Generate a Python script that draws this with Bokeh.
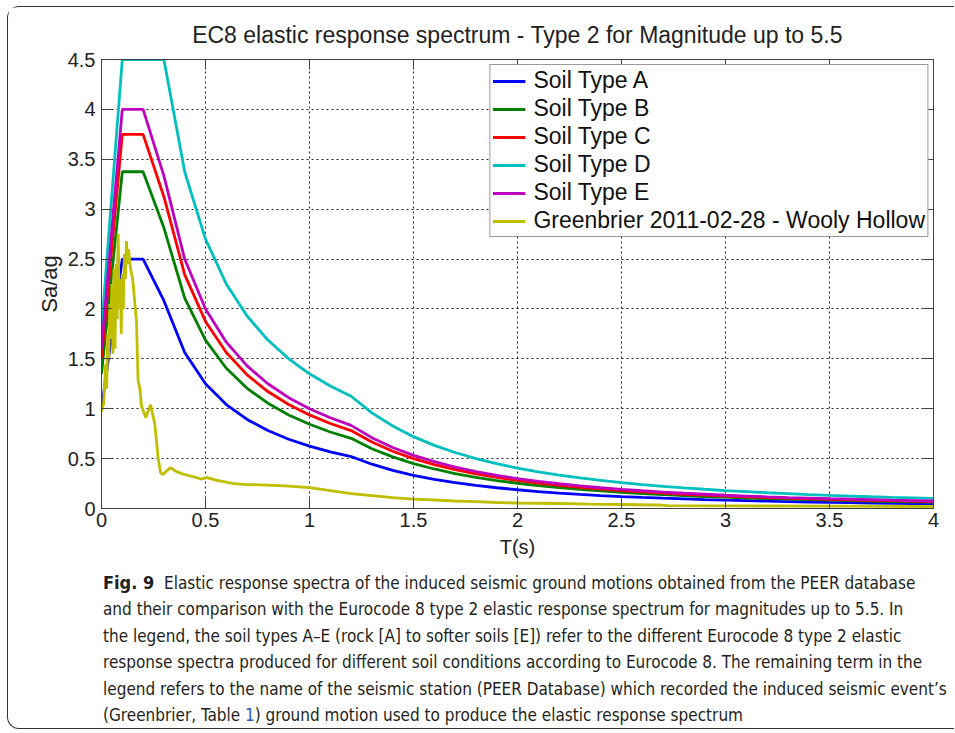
from bokeh.plotting import figure
from bokeh.layouts import column
from bokeh.models import (Range1d, LinearAxis, CustomJSTickFormatter, Legend, LegendItem, Div)
from bokeh.embed import file_html
from bokeh.resources import INLINE

# ---------------- data ----------------
period = [0.0, 0.1, 0.2, 0.3, 0.4, 0.5, 0.6, 0.7, 0.8, 0.9, 1.0,
          1.1, 1.2, 1.3, 1.4, 1.5, 1.6, 1.7, 1.8, 1.9, 2.0,
          2.1, 2.2, 2.3, 2.4, 2.5, 2.6, 2.7, 2.8, 2.9, 3.0,
          3.1, 3.2, 3.3, 3.4, 3.5, 3.6, 3.7, 3.8, 3.9, 4.0]

soil_a = [1.0, 2.5, 2.5, 2.083, 1.563, 1.25, 1.042, 0.893, 0.781, 0.694, 0.625,
          0.568, 0.521, 0.444, 0.383, 0.333, 0.293, 0.260, 0.231, 0.208, 0.188,
          0.170, 0.155, 0.142, 0.130, 0.120, 0.111, 0.103, 0.096, 0.089, 0.083,
          0.078, 0.073, 0.069, 0.065, 0.061, 0.058, 0.055, 0.052, 0.049, 0.047]
soil_b = [1.35, 3.375, 3.375, 2.813, 2.109, 1.688, 1.406, 1.205, 1.055, 0.938, 0.844,
          0.767, 0.703, 0.599, 0.517, 0.450, 0.396, 0.350, 0.313, 0.280, 0.253,
          0.230, 0.209, 0.191, 0.176, 0.162, 0.150, 0.139, 0.129, 0.120, 0.113,
          0.105, 0.099, 0.093, 0.088, 0.083, 0.078, 0.074, 0.070, 0.067, 0.063]
soil_c = [1.5, 3.75, 3.75, 3.125, 2.344, 1.875, 1.563, 1.339, 1.172, 1.042, 0.938,
          0.852, 0.781, 0.666, 0.574, 0.500, 0.439, 0.389, 0.347, 0.312, 0.281,
          0.255, 0.232, 0.213, 0.195, 0.180, 0.166, 0.154, 0.143, 0.134, 0.125,
          0.117, 0.110, 0.103, 0.097, 0.092, 0.087, 0.082, 0.078, 0.074, 0.070]
soil_d = [1.8, 4.5, 4.5, 4.5, 3.375, 2.7, 2.25, 1.929, 1.688, 1.5, 1.35,
          1.227, 1.125, 0.959, 0.827, 0.720, 0.633, 0.561, 0.500, 0.449, 0.405,
          0.367, 0.335, 0.306, 0.281, 0.259, 0.240, 0.222, 0.207, 0.193, 0.180,
          0.169, 0.158, 0.149, 0.140, 0.132, 0.125, 0.118, 0.112, 0.107, 0.101]
soil_e = [1.6, 4.0, 4.0, 3.333, 2.5, 2.0, 1.667, 1.429, 1.25, 1.111, 1.0,
          0.909, 0.833, 0.710, 0.612, 0.533, 0.469, 0.415, 0.370, 0.332, 0.300,
          0.272, 0.248, 0.227, 0.208, 0.192, 0.178, 0.165, 0.153, 0.143, 0.133,
          0.125, 0.117, 0.110, 0.104, 0.098, 0.093, 0.088, 0.083, 0.079, 0.075]

gb_period = [0.0, 0.01, 0.02, 0.025, 0.03, 0.035, 0.04, 0.045, 0.05, 0.055, 0.06,
             0.065, 0.07, 0.075, 0.08, 0.085, 0.09, 0.095, 0.10, 0.105, 0.11,
             0.115, 0.12, 0.125, 0.13, 0.14, 0.15, 0.168, 0.176, 0.184, 0.192,
             0.213, 0.236, 0.256, 0.272, 0.284, 0.296, 0.315, 0.332, 0.36, 0.393,
             0.457, 0.476, 0.508, 0.55, 0.636, 0.7, 0.8, 0.9, 1.0, 1.1,
             1.2, 1.3, 1.4, 1.5, 1.6, 1.7, 1.8, 1.9, 2.0, 2.2,
             2.35, 2.5, 2.68, 2.72, 3.0, 3.5, 4.0]
gb_sa = [0.97, 1.05, 1.45, 1.2, 1.75, 1.5, 2.05, 1.7, 2.25, 1.55, 2.4,
         1.6, 2.45, 1.9, 2.75, 2.0, 2.3, 1.75, 2.35, 2.0, 2.55,
         2.3, 2.68, 2.45, 2.6, 2.4, 2.3, 1.88, 1.28, 1.21, 1.03,
         0.91, 1.04, 0.85, 0.51, 0.36, 0.34, 0.38, 0.41, 0.37, 0.345,
         0.31, 0.295, 0.31, 0.285, 0.25, 0.24, 0.235, 0.225, 0.21, 0.18,
         0.15, 0.13, 0.11, 0.094, 0.085, 0.075, 0.068, 0.06, 0.055, 0.05,
         0.044, 0.04, 0.035, 0.028, 0.026, 0.023, 0.02]

series_names = ["Soil Type A", "Soil Type B", "Soil Type C", "Soil Type D", "Soil Type E",
                "Greenbrier 2011-02-28 - Wooly Hollow"]
series_colors = ["#0000ff", "#008000", "#ff0000", "#00bfbf", "#bf00bf", "#bfbf00"]

x_ticks = [0, 0.5, 1, 1.5, 2, 2.5, 3, 3.5, 4]
y_ticks = [0, 0.5, 1, 1.5, 2, 2.5, 3, 3.5, 4, 4.5]

title_text = "EC8 elastic response spectrum - Type 2 for Magnitude up to 5.5"
caption_bold = "Fig. 9"
caption_first = "Elastic response spectra of the induced seismic ground motions obtained from the PEER database"
caption_lines = [
    "and their comparison with the Eurocode 8 type 2 elastic response spectrum for magnitudes up to 5.5. In",
    "the legend, the soil types A\u2013E (rock [A] to softer soils [E]) refer to the different Eurocode 8 type 2 elastic",
    "response spectra produced for different soil conditions according to Eurocode 8. The remaining term in the",
    "legend refers to the name of the seismic station (PEER Database) which recorded the induced seismic event\u2019s",
]
caption_last_a = "(Greenbrier, Table "
caption_last_b = "1"
caption_last_c = ") ground motion used to produce the elastic response spectrum"

# ---------------- main chart ----------------
FONT = "Liberation Sans"
AXC = "#404040"

p = figure(width=946, height=553, output_backend="svg", toolbar_location=None,
           x_range=Range1d(0, 4), y_range=Range1d(0, 4.5),
           min_border_left=93, min_border_right=21, min_border_top=52, min_border_bottom=52,
           title=title_text)
p.title.align = "center"
p.title.text_font = FONT
p.title.text_font_size = "23px"
p.title.text_font_style = "normal"
p.title.text_color = "#222222"
p.title.standoff = 23

p.outline_line_color = AXC
p.outline_line_width = 1

for ax in (p.xaxis[0], p.yaxis[0]):
    ax.major_tick_in = 10
    ax.major_tick_out = 0
    ax.minor_tick_line_color = None
    ax.axis_line_color = AXC
    ax.major_tick_line_color = AXC
    ax.major_label_text_font = FONT
    ax.major_label_text_font_size = "20px"
    ax.major_label_text_color = "#222222"
    ax.axis_label_text_font = FONT
    ax.axis_label_text_font_style = "normal"
    ax.axis_label_text_color = "#222222"

p.xaxis.ticker = x_ticks
p.yaxis.ticker = y_ticks
p.xaxis.axis_label = "T(s)"
p.yaxis.axis_label = "Sa/ag"
p.xaxis.axis_label_text_font_size = "20px"
p.yaxis.axis_label_text_font_size = "22px"
p.xaxis.major_label_standoff = 4
p.yaxis.major_label_standoff = 6
p.xaxis.axis_label_standoff = 6
p.yaxis.axis_label_standoff = 3

blank = CustomJSTickFormatter(code="return ''")
top_ax = LinearAxis(ticker=x_ticks, formatter=blank, major_tick_in=10, major_tick_out=0,
                    minor_tick_line_color=None, axis_line_color=AXC,
                    major_tick_line_color=AXC, major_label_standoff=0)
right_ax = LinearAxis(ticker=y_ticks, formatter=blank, major_tick_in=10, major_tick_out=0,
                      minor_tick_line_color=None, axis_line_color=AXC,
                      major_tick_line_color=AXC, major_label_standoff=0)
p.add_layout(top_ax, "above")
p.add_layout(right_ax, "right")

p.xgrid.ticker = x_ticks
p.ygrid.ticker = y_ticks
for g in (p.xgrid[0], p.ygrid[0]):
    g.grid_line_color = "#222222"
    g.grid_line_dash = "2 3"
    g.grid_line_width = 1

renderers = []
for vals, col in zip([soil_a, soil_b, soil_c, soil_d, soil_e], series_colors[:5]):
    renderers.append(p.line(period, vals, line_color=col, line_width=2.8))
renderers.append(p.line(gb_period, gb_sa, line_color=series_colors[5], line_width=2.8))

legend = Legend(items=[LegendItem(label=n, renderers=[r]) for n, r in zip(series_names, renderers)],
                location="top_right")
legend.margin = 5
legend.padding = 2
legend.spacing = 1
legend.glyph_width = 33
legend.glyph_height = 24
legend.label_height = 24
legend.label_standoff = 8
legend.label_text_font = FONT
legend.label_text_font_size = "23px"
legend.label_text_color = "#111111"
legend.border_line_color = "#333333"
legend.border_line_width = 1
legend.background_fill_color = "white"
legend.background_fill_alpha = 1
p.add_layout(legend, "center")

# ---------------- caption ----------------
cap_lines_html = ['<b style="font-size:18px">%s</b>&nbsp;&nbsp;%s' % (caption_bold, caption_first)]
cap_lines_html += caption_lines
cap_lines_html.append('%s<span style="color:#2a5db0">%s</span>%s'
                      % (caption_last_a, caption_last_b, caption_last_c))
cap_html = ('<div style="font-family:\'DejaVu Sans Condensed\',\'DejaVu Sans\',sans-serif;'
            'font-stretch:condensed;font-size:17px;line-height:26.4px;color:#231f20;'
            'white-space:nowrap;padding:10px 0 0 95px;">'
            + '<br>'.join(cap_lines_html) + '</div>')
cap = Div(text=cap_html, width=946, height=168, margin=0)

layout = column(p, cap, margin=(6, 0, 0, 7),
                styles={"border": "1px solid #333333", "border-right": "none",
                        "border-radius": "12px 0 0 12px"})

open("out.html", "w").write(file_html(layout, INLINE))
